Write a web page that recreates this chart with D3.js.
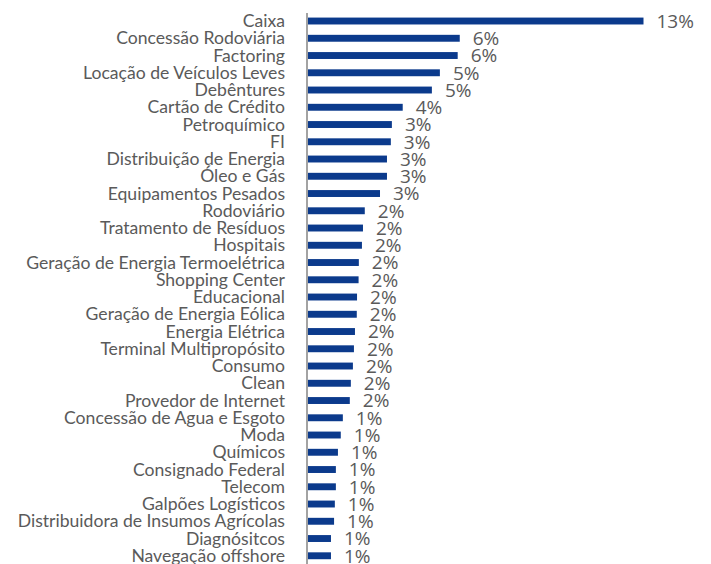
<!DOCTYPE html>
<html>
<head>
<meta charset="utf-8">
<script src="https://cdn.jsdelivr.net/npm/d3@7/dist/d3.min.js"></script>
<style>
  html, body { margin: 0; padding: 0; background: #fff; }
  svg { display: block; }
</style>
</head>
<body>
<svg id="chart" width="711" height="564"></svg>
<script>
// Portfolio allocation by sector (% of total)
const categories = [
  "Caixa", "Concessão Rodoviária", "Factoring", "Locação de Veículos Leves",
  "Debêntures", "Cartão de Crédito", "Petroquímico", "FI",
  "Distribuição de Energia", "Óleo e Gás", "Equipamentos Pesados", "Rodoviário",
  "Tratamento de Resíduos", "Hospitais", "Geração de Energia Termoelétrica",
  "Shopping Center", "Educacional", "Geração de Energia Eólica", "Energia Elétrica",
  "Terminal Multipropósito", "Consumo", "Clean", "Provedor de Internet",
  "Concessão de Agua e Esgoto", "Moda", "Químicos", "Consignado Federal",
  "Telecom", "Galpões Logísticos", "Distribuidora de Insumos Agrícolas",
  "Diagnósitcos", "Navegação offshore"
];
const values = [
  13.0, 5.88, 5.80, 5.11,
  4.80, 3.67, 3.25, 3.21,
  3.06, 3.06, 2.79, 2.20,
  2.13, 2.09, 1.97,
  1.96, 1.90, 1.89, 1.82,
  1.78, 1.74, 1.66, 1.62,
  1.35, 1.27, 1.16, 1.08,
  1.08, 1.04, 1.01,
  0.89, 0.89
];

const svg = d3.select("#chart");
const x0 = 308;
const x = d3.scaleLinear().domain([0, 13]).range([x0, 643.5]);
const y = d3.scaleBand()
  .domain(categories)
  .range([12.4, 564.4])
  .paddingInner(0.6)
  .paddingOuter(0.3);

const rows = categories.map((c, i) => ({ c, v: values[i] }));

// bars
svg.append("g").selectAll("rect").data(rows).join("rect")
  .attr("x", x0)
  .attr("y", d => y(d.c))
  .attr("width", d => x(d.v) - x0)
  .attr("height", y.bandwidth())
  .attr("fill", "#0b3a8c");

// category axis line
svg.append("line")
  .attr("x1", 307).attr("x2", 307)
  .attr("y1", 13).attr("y2", 564)
  .attr("stroke", "#a3a3a3")
  .attr("stroke-width", 2);

// category labels
svg.append("g").selectAll("text").data(rows).join("text")
  .attr("x", 285)
  .attr("y", d => y(d.c) + y.bandwidth() / 2)
  .attr("dy", "0.35em")
  .attr("text-anchor", "end")
  .attr("font-family", "Lato, sans-serif")
  .attr("font-size", 17.6)
  .attr("fill", "#5a5a5a")
  .text(d => d.c);

// value labels
const fmt = v => d3.format(".0f")(v) + "%";
svg.append("g").selectAll("text").data(rows).join("text")
  .attr("x", d => x(d.v) + 13)
  .attr("y", d => y(d.c) + y.bandwidth() / 2)
  .attr("dy", "0.36em")
  .attr("font-family", "'Open Sans', sans-serif")
  .attr("font-size", 19)
  .attr("fill", "#5a5a5a")
  .text(d => fmt(d.v));
</script>
</body>
</html>
